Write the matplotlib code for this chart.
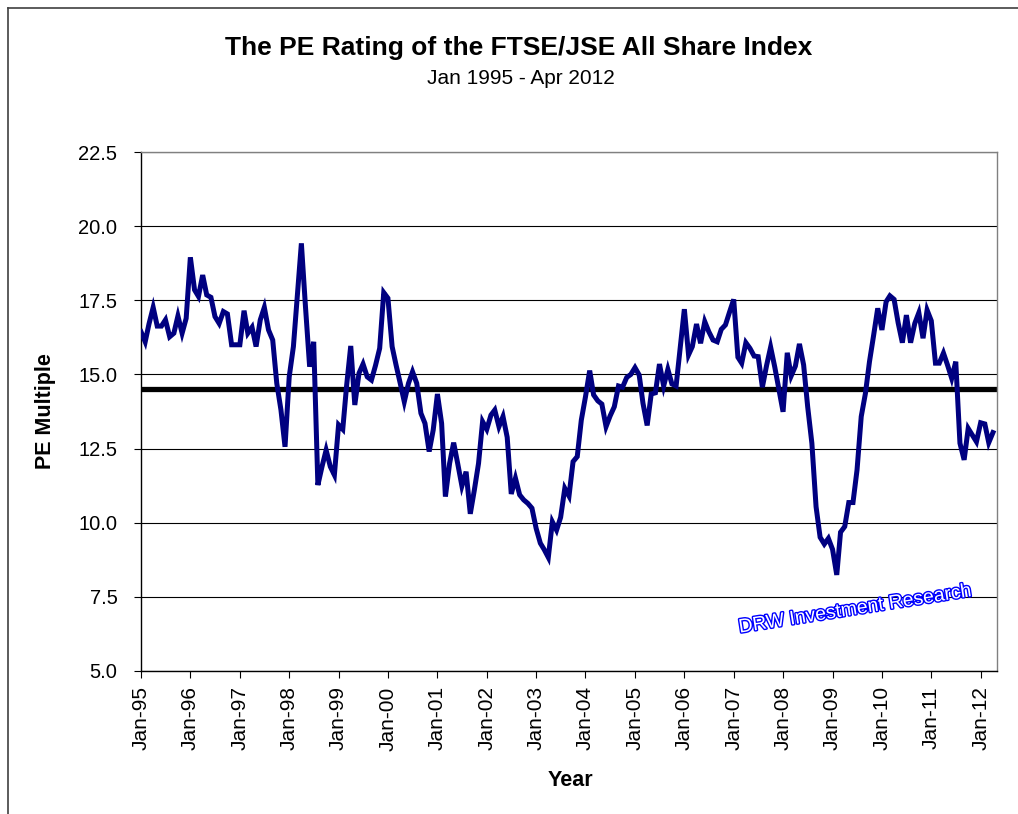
import matplotlib
matplotlib.use("Agg")
import matplotlib.pyplot as plt
import matplotlib.dates as mdates
import matplotlib.patheffects as pe
from matplotlib.lines import Line2D
import pandas as pd

plt.rcParams['font.family'] = ['Liberation Sans', 'DejaVu Sans']

title = "The PE Rating of the FTSE/JSE All Share Index"
subtitle = "Jan 1995 - Apr 2012"
y_label = "PE Multiple"
x_label = "Year"
watermark = "DRW Investment Research"

start_month = "1995-01-01"
average_pe = 14.5
y_ticks = [5.0, 7.5, 10.0, 12.5, 15.0, 17.5, 20.0, 22.5]

pe_values = [
    16.44, 16.10, 16.70, 17.26, 16.63, 16.63, 16.84, 16.27, 16.39, 16.97, 16.39, 16.89,
    18.95, 17.85, 17.63, 18.35, 17.68, 17.60, 16.95, 16.72, 17.12, 17.04, 16.00, 16.00,
    16.00, 17.15, 16.39, 16.59, 15.94, 16.84, 17.26, 16.50, 16.16, 14.70, 13.80, 12.56,
    14.92, 15.94, 17.60, 19.42, 17.30, 15.26, 16.10, 11.27, 11.90, 12.45, 11.89, 11.61,
    13.30, 13.15, 14.60, 15.96, 13.97, 15.04, 15.35, 14.92, 14.81, 15.30, 15.88, 17.76,
    17.57, 15.94, 15.32, 14.70, 14.08, 14.70, 15.09, 14.70, 13.69, 13.35, 12.40, 13.13,
    14.34, 13.35, 10.88, 12.00, 12.70, 11.97, 11.24, 11.72, 10.30, 11.10, 12.00, 13.41,
    13.15, 13.63, 13.80, 13.24, 13.58, 12.88, 10.97, 11.50, 10.94, 10.77, 10.65, 10.49,
    9.81, 9.31, 9.10, 8.83, 10.03, 9.75, 10.18, 11.16, 10.90, 12.06, 12.23, 13.46,
    14.25, 15.13, 14.31, 14.11, 14.00, 13.24, 13.60, 13.91, 14.61, 14.57, 14.90, 15.00,
    15.23, 14.98, 14.03, 13.28, 14.34, 14.38, 15.35, 14.61, 15.17, 14.68, 14.61, 15.90,
    17.20, 15.66, 15.94, 16.70, 16.05, 16.78, 16.44, 16.16, 16.10, 16.52, 16.67, 17.10,
    17.53, 15.58, 15.38, 16.07, 15.88, 15.62, 15.60, 14.57, 15.30, 15.92, 15.24, 14.50,
    13.74, 15.73, 14.95, 15.28, 16.03, 15.32, 13.91, 12.68, 10.54, 9.51, 9.28, 9.47,
    9.10, 8.24, 9.68, 9.87, 10.68, 10.68, 11.78, 13.58, 14.36, 15.43, 16.33, 17.23,
    16.50, 17.45, 17.65, 17.53, 16.74, 16.07, 17.00, 16.07, 16.72, 17.08, 16.22, 17.17,
    16.81, 15.38, 15.38, 15.72, 15.32, 14.87, 15.43, 12.68, 12.12, 13.18, 12.95, 12.73,
    13.37, 13.33, 12.70, 13.04,
]

dates = pd.date_range(start_month, periods=len(pe_values), freq="MS")

W, H = 1018, 814
fig = plt.figure(figsize=(W / 100, H / 100), dpi=100)
fig.patch.set_facecolor("white")
ax = fig.add_axes([141 / W, 1 - 671 / H, (997 - 141) / W, (671 - 152) / H])

# gridlines
for v in y_ticks:
    ax.axhline(v, color="black", lw=0.8, zorder=1)

ax.plot(dates, pe_values, color="#000080", lw=3.6, zorder=3, solid_joinstyle="miter")
ax.axhline(average_pe, color="black", lw=3.8, zorder=2)

ax.set_ylim(5.0, 22.5)
ax.set_xlim(pd.Timestamp("1995-01-01"), pd.Timestamp("2012-05-01"))
ax.set_yticks(y_ticks)
ax.set_yticklabels([f"{v:.1f}" for v in y_ticks])
ax.xaxis.set_major_locator(mdates.YearLocator(1, month=1, day=1))
ax.xaxis.set_major_formatter(mdates.DateFormatter("%b-%y"))
ax.tick_params(axis="x", labelrotation=90, labelsize=15, direction="out", length=5, width=0.8, pad=6)
ax.tick_params(axis="y", labelsize=14.5, direction="out", length=5, width=0.8, pad=12)

for s in ["left", "bottom"]:
    ax.spines[s].set_color("black")
    ax.spines[s].set_linewidth(1.0)
for s in ["top", "right"]:
    ax.spines[s].set_color("#808080")
    ax.spines[s].set_linewidth(1.0)

fig.text(519 / W, 1 - 48 / H, title, ha="center", va="center", fontsize=19, fontweight="bold")
fig.text(521 / W, 1 - 78 / H, subtitle, ha="center", va="center", fontsize=15)
fig.text(46 / W, 1 - 411 / H, y_label, ha="center", va="center", rotation=90, fontsize=15.5, fontweight="bold")
fig.text(570 / W, 1 - 781 / H, x_label, ha="center", va="center", fontsize=15.5, fontweight="bold")

wm = ax.text(0.835, 0.118, watermark, transform=ax.transAxes, ha="center", va="center",
             rotation=9, fontsize=14, color="white", zorder=4)
wm.set_path_effects([pe.Stroke(linewidth=2.0, foreground="#0000ff"), pe.Normal()])

# outer chart frame
fig.add_artist(Line2D([8 / W, 8 / W], [0, 1 - 8 / H], transform=fig.transFigure, color="#404040", lw=1.2))
fig.add_artist(Line2D([8 / W, 1], [1 - 8 / H, 1 - 8 / H], transform=fig.transFigure, color="#404040", lw=1.2))

fig.savefig("out.png", dpi=100, facecolor="white")
